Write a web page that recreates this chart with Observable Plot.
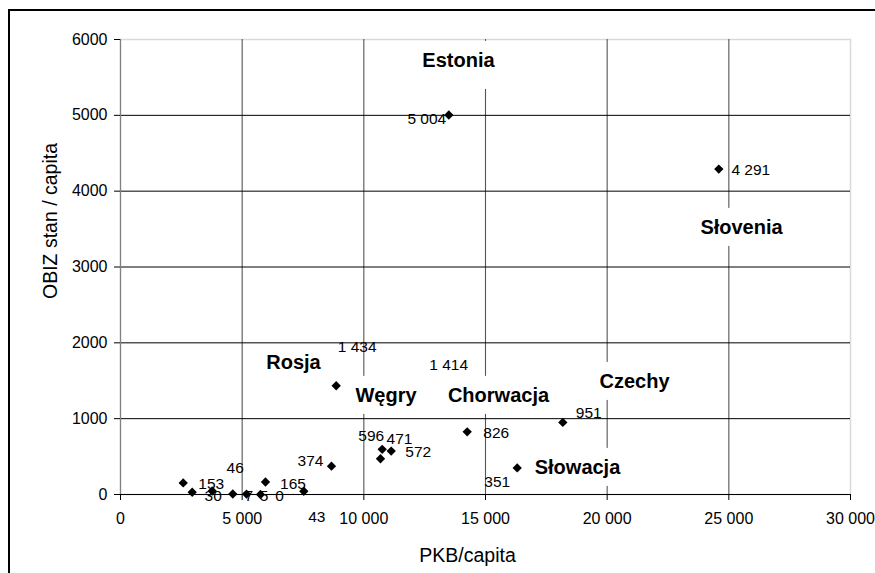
<!DOCTYPE html>
<html>
<head>
<meta charset="utf-8">
<script src="https://cdn.jsdelivr.net/npm/d3@7"></script>
<script src="https://cdn.jsdelivr.net/npm/@observablehq/plot@0.6"></script>
<style>
  html, body { margin: 0; padding: 0; background: #fff; overflow: hidden; }
  #border { position: absolute; left: 8px; top: 9px; width: 2000px; height: 2000px;
            border-left: 2px solid #000; border-top: 2px solid #000; }
  #chart { position: absolute; left: 0; top: 0; }
</style>
</head>
<body>
<div id="border"></div>
<div id="chart"></div>
<script>
// GDP per capita (PKB/capita) and FDI stock per capita (OBIZ stan / capita)
const pkb  = [13492, 24588, 8864, 14100, 14248, 18177, 16303, 10755, 11125, 10685, 8671, 5959, 2577, 2947, 3769, 4615, 5178, 5753, 7533];
const obiz = [5004, 4291, 1434, 1414, 826, 951, 351, 596, 572, 471, 374, 165, 153, 30, 46, 7, 5, 0, 43];

// Country annotations
const countryNames = ["Estonia", "Słovenia", "Rosja", "Węgry", "Chorwacja", "Czechy", "Słowacja"];

// Axis ticks
const xTicks = [0, 5000, 10000, 15000, 20000, 25000, 30000];
const yTicks = [0, 1000, 2000, 3000, 4000, 5000, 6000];

// ---- layout ----
// annotation anchors (in data units)
const countryX = [13890, 25521, 7110, 10911, 15534, 21123, 18781];
const countryY = [5723, 3521, 1741, 1306, 1306, 1490, 356];
// value label offsets from each point, in pixels
const labelOffset = [[-22, 4], [32, 1], [21, -39], [-15, -22], [29, 1], [26, -9], [-20, 14],
                     [-11, -13], [27, 1], [19, -20], [-21, -5], [27.5, 2], [28, 1], [21, 4],
                     [23, -23], [16, 2], [17.5, 2], [19, 2], [13, 26]];

const spaced = d3.formatLocale({decimal: ",", thousands: " ", grouping: [3], currency: ["", ""]}).format(",");
const idx = d3.range(pkb.length);

const valueLabels = idx.map(i => Plot.text([i], {
  x: j => pkb[j], y: j => obiz[j], text: j => spaced(obiz[j]),
  dx: labelOffset[i][0], dy: labelOffset[i][1], fontSize: 15.5, fill: "#000"
}));

const plot = Plot.plot({
  width: 875,
  height: 573,
  marginTop: 39,
  marginRight: 25,
  marginBottom: 79,
  marginLeft: 120,
  style: {fontFamily: "'Liberation Sans', Arial, sans-serif", fontSize: "16px", color: "#000", background: "none", overflow: "visible"},
  x: {domain: [0, 30000], axis: null},
  y: {domain: [0, 6000], axis: null},
  marks: [
    Plot.frame({stroke: "#d9d9d9", strokeWidth: 1.5}),
    Plot.gridX(xTicks.slice(1, -1), {stroke: "#555", strokeOpacity: 1, strokeWidth: 1.1}),
    Plot.gridY(yTicks.slice(1, -1), {stroke: "#000", strokeOpacity: 1, strokeWidth: 1}),
    Plot.ruleX([0], {stroke: "#808080", strokeWidth: 1.2}),
    Plot.ruleY([0], {stroke: "#000", strokeWidth: 1.2}),
    Plot.axisY(yTicks, {tickSize: 6, tickPadding: 7, tickFormat: d => String(d), fontSize: 16, label: null}),
    Plot.axisX(xTicks, {tickSize: 6, tickPadding: 12, tickFormat: spaced, fontSize: 16, label: null}),
    Plot.dot(idx, {x: i => pkb[i], y: i => obiz[i], symbol: "diamond2", r: 4.2, fill: "#000"}),
    ...valueLabels,
    Plot.text(d3.range(countryNames.length), {
      x: i => countryX[i], y: i => countryY[i], text: i => countryNames[i],
      fontWeight: "bold", fontSize: 20, fill: "#000", ariaDescription: "country labels"
    }),
    Plot.text(["PKB/capita"], {frameAnchor: "bottom", lineAnchor: "middle", textAnchor: "middle", dx: -18, dy: 61, fontSize: 19.5}),
    Plot.text(["OBIZ stan / capita"], {frameAnchor: "left", lineAnchor: "middle", textAnchor: "middle", rotate: -90, dx: -70, dy: -46, fontSize: 19.5})
  ]
});

document.getElementById("chart").append(plot);

// White boxes behind the country names, covering the gridlines underneath
const extraBelow = {"Estonia": 10};
const padTopFor = {"Rosja": 2};
let groups = plot.querySelectorAll('g[aria-description="country labels"]');
if (!groups.length) groups = plot.querySelectorAll('g[font-weight="bold"]');
groups.forEach(g => {
  g.querySelectorAll("text").forEach(t => {
    const b = t.getBBox();
    const padX = 5, padY = 8;
    const name = t.textContent;
    const top = padTopFor[name] !== undefined ? padTopFor[name] : padY;
    const below = extraBelow[name] || 0;
    const r = document.createElementNS("http://www.w3.org/2000/svg", "rect");
    r.setAttribute("x", b.x - padX);
    r.setAttribute("y", b.y - top);
    r.setAttribute("width", b.width + 2 * padX);
    r.setAttribute("height", b.height + top + padY + below);
    r.setAttribute("fill", "#fff");
    r.setAttribute("stroke", "none");
    const tr = t.getAttribute("transform");
    if (tr) r.setAttribute("transform", tr);
    t.parentNode.insertBefore(r, t);
  });
});
</script>
</body>
</html>
